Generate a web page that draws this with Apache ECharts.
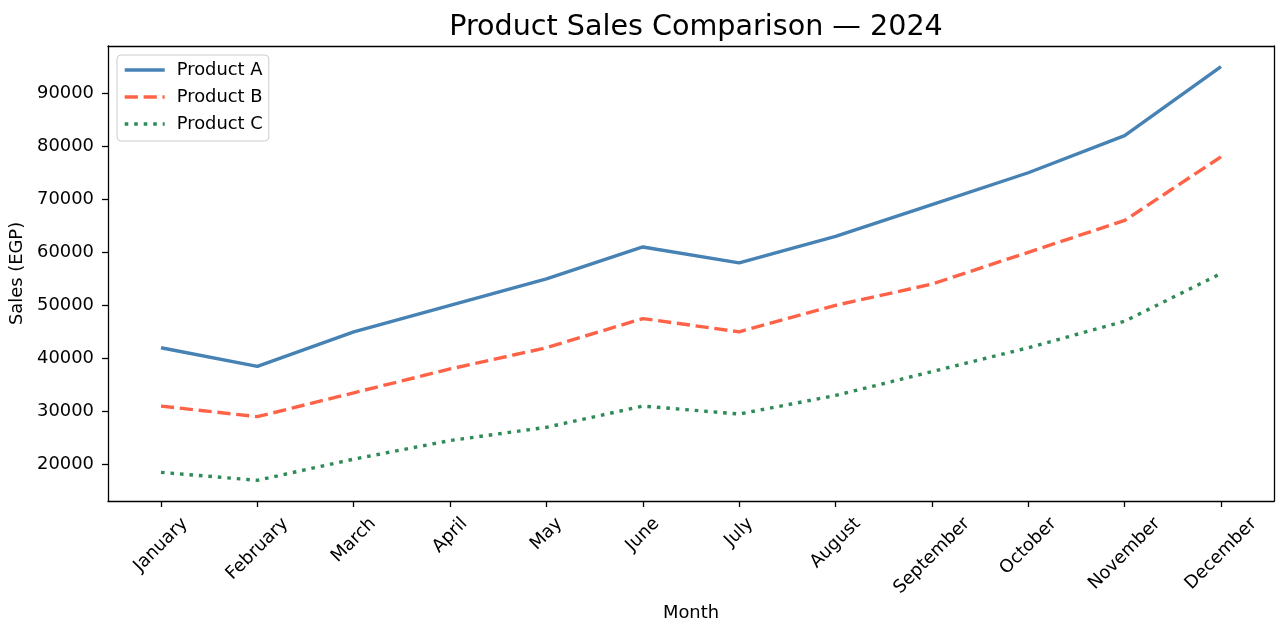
<!DOCTYPE html>
<html>
<head>
<meta charset="utf-8">
<script src="https://cdn.jsdelivr.net/npm/echarts@6/dist/echarts.min.js"></script>
<style>
    html, body { margin: 0; padding: 0; background: #fff; }
    #chart { width: 1286px; height: 635px; }
</style>
</head>
<body>
<div id="chart"></div>
<script>
var months = ["January", "February", "March", "April", "May", "June",
    "July", "August", "September", "October", "November", "December"];
var productA = [42000, 38500, 45000, 50000, 55000, 61000, 58000, 63000, 69000, 75000, 82000, 95000];
var productB = [31000, 29000, 33500, 38000, 42000, 47500, 45000, 50000, 54000, 60000, 66000, 78000];
var productC = [18500, 17000, 21000, 24500, 27000, 31000, 29500, 33000, 37500, 42000, 47000, 56000];
var yTicks = [20000, 30000, 40000, 50000, 60000, 70000, 80000, 90000];

var FONT = "DejaVu Sans";
var SIZE = 17.9;

// measure month labels so rotated labels hang centred under ticks (like matplotlib)
var ctx = document.createElement("canvas").getContext("2d");
ctx.font = SIZE + "px \"" + FONT + "\"";
var rich = {};
months.forEach(function (m, i) {
    var w = ctx.measureText(m).width;
    rich["m" + i] = { fontFamily: FONT, fontSize: SIZE, color: "#000", padding: [w / 2, w / 2, 0, 0] };
});

function pairs(arr) {
    return arr.map(function (v, i) { return [i, v]; });
}

var chart = echarts.init(document.getElementById("chart"), null, { renderer: "canvas" });
var frame = { show: true, onZero: false, lineStyle: { color: "#000", width: 1.3 } };
var tickStyle = { color: "#000", width: 1.3 };
var monthIdx = months.map(function (m, i) { return i; });
var option = {
    animation: false,
    title: {
        text: "Product Sales Comparison — 2024",
        left: 691,
        textAlign: "center",
        top: 8,
        textStyle: { fontFamily: FONT, fontSize: 28.6, fontWeight: "normal", color: "#000" }
    },
    legend: {
        orient: "vertical",
        left: 117,
        top: 55,
        padding: [6, 6, 8, 6],
        itemWidth: 40,
        itemHeight: 18,
        itemGap: 9,
        borderColor: "#cccccc",
        borderWidth: 1,
        borderRadius: 4,
        backgroundColor: "rgba(255,255,255,0.8)",
        itemStyle: { opacity: 0 },
        lineStyle: { width: 3.4 },
        textStyle: { fontFamily: FONT, fontSize: SIZE, color: "#000", padding: [0, 0, 0, 7] },
        data: ["Product A", "Product B", "Product C"]
    },
    grid: { left: 108, right: 12, top: 46, bottom: 134 },
    xAxis: [{
        type: "value",
        min: -0.55,
        max: 11.55,
        name: "Month",
        nameLocation: "middle",
        nameGap: 100,
        nameTextStyle: { fontFamily: FONT, fontSize: SIZE, color: "#000" },
        axisLine: frame,
        axisTick: { show: true, length: 6, customValues: monthIdx, lineStyle: tickStyle },
        axisLabel: {
            customValues: monthIdx,
            rotate: 45,
            align: "center",
            verticalAlign: "middle",
            margin: 20,
            formatter: function (v) { return "{m" + v + "|" + months[v] + "}"; },
            rich: rich
        },
        splitLine: { show: false }
    }, {
        type: "value",
        position: "top",
        min: -0.55,
        max: 11.55,
        axisLine: frame,
        axisTick: { show: false },
        axisLabel: { show: false },
        splitLine: { show: false }
    }],
    yAxis: [{
        type: "value",
        min: 13100,
        max: 98900,
        name: "Sales (EGP)",
        nameLocation: "middle",
        nameGap: 75,
        nameTextStyle: { fontFamily: FONT, fontSize: SIZE, color: "#000" },
        axisLine: frame,
        axisTick: { show: true, length: 6, customValues: yTicks, lineStyle: tickStyle },
        axisLabel: {
            customValues: yTicks,
            margin: 14,
            fontFamily: FONT,
            fontSize: SIZE,
            color: "#000",
            formatter: function (v) { return String(v); }
        },
        splitLine: { show: false }
    }, {
        type: "value",
        position: "right",
        min: 13100,
        max: 98900,
        axisLine: frame,
        axisTick: { show: false },
        axisLabel: { show: false },
        splitLine: { show: false }
    }],
    series: [{
        name: "Product A",
        type: "line",
        symbol: "none",
        data: pairs(productA),
        lineStyle: { color: "#4682B4", width: 3.4, type: "solid" },
        itemStyle: { color: "#4682B4" }
    }, {
        name: "Product B",
        type: "line",
        symbol: "none",
        data: pairs(productB),
        lineStyle: { color: "#FF6347", width: 3.4, type: [13.2, 5.7] },
        itemStyle: { color: "#FF6347" }
    }, {
        name: "Product C",
        type: "line",
        symbol: "none",
        data: pairs(productC),
        lineStyle: { color: "#2E8B57", width: 3.4, type: [3.6, 5.9] },
        itemStyle: { color: "#2E8B57" }
    }]
};
chart.setOption(option);
</script>
</body>
</html>
